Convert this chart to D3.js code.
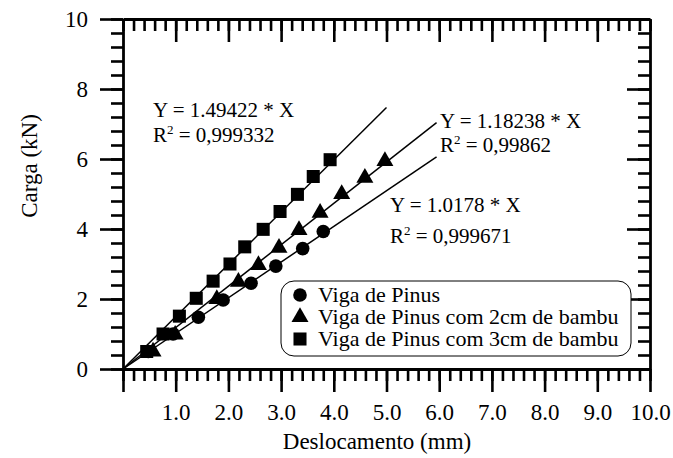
<!DOCTYPE html>
<html>
<head>
<meta charset="utf-8">
<script src="https://cdn.jsdelivr.net/npm/d3@7"></script>
<style>
  body { margin: 0; background: #fff; }
  svg text { font-family: "Liberation Serif", "Times New Roman", Tinos, "DejaVu Serif", serif; }
</style>
</head>
<body>
<div id="chart"></div>
<script>
const W = 673, H = 458;
const box = { left: 123, right: 650, top: 19, bottom: 369 };
const FONT = "'Liberation Serif', 'Times New Roman', Tinos, 'DejaVu Serif', serif";

// Carga (kN) vs deslocamento (mm)
const pinusX = [0.48, 0.95, 1.43, 1.90, 2.43, 2.90, 3.41, 3.80];
const pinusY = [0.5, 1.0, 1.48, 1.97, 2.45, 2.94, 3.44, 3.93];
const bambu2X = [0.57, 0.99, 1.78, 2.19, 2.57, 2.96, 3.34, 3.74, 4.15, 4.59, 4.97];
const bambu2Y = [0.5, 0.98, 2.0, 2.49, 2.97, 3.46, 3.97, 4.46, 5.0, 5.46, 5.94];
const bambu3X = [0.45, 0.76, 1.07, 1.39, 1.71, 2.03, 2.31, 2.66, 2.98, 3.31, 3.61, 3.93];
const bambu3Y = [0.5, 1.0, 1.51, 2.02, 2.51, 3.0, 3.49, 3.99, 4.5, 4.99, 5.5, 5.98];

// fitted lines through the origin: end point of each
const fitEndX = [5.95, 5.95, 5.0];
const fitEndY = [6.06, 7.04, 7.47];

const equations = ["Y = 1.0178 * X", "Y = 1.18238 * X", "Y = 1.49422 * X"];
const r2Values = ["0,999671", "0,99862", "0,999332"];
const legendNames = ["Viga de Pinus", "Viga de Pinus com 2cm de bambu", "Viga de Pinus com 3cm de bambu"];

const xTicks = [1, 2, 3, 4, 5, 6, 7, 8, 9, 10];
const yTicks = [0, 2, 4, 6, 8, 10];

const x = d3.scaleLinear().domain([0, 10]).range([box.left, box.right]);
const y = d3.scaleLinear().domain([0, 10]).range([box.bottom, box.top]);

const svg = d3.select("#chart").append("svg")
  .attr("width", W)
  .attr("height", H);

const xMinor = d3.range(0, 10.01, 0.2).map(v => +v.toFixed(1));
const yMinor = d3.range(0, 10.01, 0.4).map(v => +v.toFixed(1));

// Draw one axis pair (major + minor)
const drawAxis = (axisFn, scale, pos, major, minor, labels) => {
  const g = svg.append("g").attr("transform", pos);
  g.call(axisFn(scale).tickValues(minor).tickSize(12).tickSizeOuter(0).tickFormat(""));
  const m = svg.append("g").attr("transform", pos);
  m.call(axisFn(scale).tickValues(major).tickSize(23).tickSizeOuter(0).tickPadding(12)
    .tickFormat(labels ? labels : ""));
  m.select(".domain").remove();
  [g, m].forEach(s => {
    s.attr("font-family", FONT);
    s.selectAll("line").attr("stroke", "#000").attr("stroke-width", 2.6);
    s.selectAll("text").attr("fill", "#000").attr("font-family", FONT).style("font-size", "23px");
  });
  g.select(".domain").attr("stroke", "#000").attr("stroke-width", 2.8);
};

drawAxis(d3.axisBottom, x, `translate(0,${box.bottom})`, [0].concat(xTicks), xMinor,
  d => d === 0 ? "" : d3.format(".1f")(d));
drawAxis(d3.axisLeft, y, `translate(${box.left},0)`, yTicks, yMinor, d => d);
// top and right: ticks pointing inward
drawAxis(d3.axisBottom, x, `translate(0,${box.top})`, xTicks.slice(0, -1), xMinor, null);
drawAxis(d3.axisLeft, y, `translate(${box.right},0)`, yTicks.slice(1, -1), yMinor, null);

// axis titles
svg.append("text")
  .attr("x", 377).attr("y", 449)
  .attr("text-anchor", "middle")
  .attr("font-family", FONT)
  .style("font-size", "23px")
  .text("Deslocamento (mm)");

svg.append("text")
  .attr("transform", `translate(37,${166}) rotate(-90)`)
  .attr("text-anchor", "middle")
  .attr("font-family", FONT)
  .style("font-size", "23px")
  .text("Carga (kN)");

// fit lines
fitEndX.forEach((ex, i) => {
  svg.append("line")
    .attr("x1", x(0)).attr("y1", y(0))
    .attr("x2", x(ex)).attr("y2", y(fitEndY[i]))
    .attr("stroke", "#000")
    .attr("stroke-width", 1.5);
});

// markers
const symbols = [d3.symbolCircle, d3.symbolTriangle, d3.symbolSquare];
const symSizes = [145, 125, 170];
const series = [
  pinusX.map((v, i) => [v, pinusY[i]]),
  bambu2X.map((v, i) => [v, bambu2Y[i]]),
  bambu3X.map((v, i) => [v, bambu3Y[i]])
];

series.forEach((pts, s) => {
  svg.append("g").selectAll("path")
    .data(pts)
    .enter().append("path")
    .attr("transform", d => `translate(${x(d[0])},${y(d[1])})`)
    .attr("d", d3.symbol().type(symbols[s]).size(symSizes[s]))
    .attr("fill", "#000");
});

// equation labels
const eqPos = [[390, 212, 243], [440, 128, 152], [153, 117, 142]];
eqPos.forEach((p, i) => {
  svg.append("text")
    .attr("x", p[0]).attr("y", p[1])
    .attr("font-family", FONT)
    .style("font-size", "21px")
    .text(equations[i]);
  const t = svg.append("text")
    .attr("x", p[0]).attr("y", p[2])
    .attr("font-family", FONT)
    .style("font-size", "21px");
  t.append("tspan").text("R");
  t.append("tspan").attr("dy", -8).style("font-size", "13px").text("2");
  t.append("tspan").attr("dy", 8).text(" =  " + r2Values[i]);
});

// legend
const legend = svg.append("g");
legend.append("rect")
  .attr("x", 281).attr("y", 281)
  .attr("width", 350).attr("height", 75)
  .attr("rx", 13).attr("ry", 13)
  .attr("fill", "#fff")
  .attr("stroke", "#000")
  .attr("stroke-width", 1);

legendNames.forEach((name, i) => {
  const ly = 295 + i * 22;
  legend.append("path")
    .attr("transform", `translate(300,${ly})`)
    .attr("d", d3.symbol().type(symbols[i]).size(symSizes[i]))
    .attr("fill", "#000");
  legend.append("text")
    .attr("x", 318).attr("y", ly + 7)
    .attr("font-family", FONT)
    .style("font-size", "22px")
    .text(name);
});
</script>
</body>
</html>
